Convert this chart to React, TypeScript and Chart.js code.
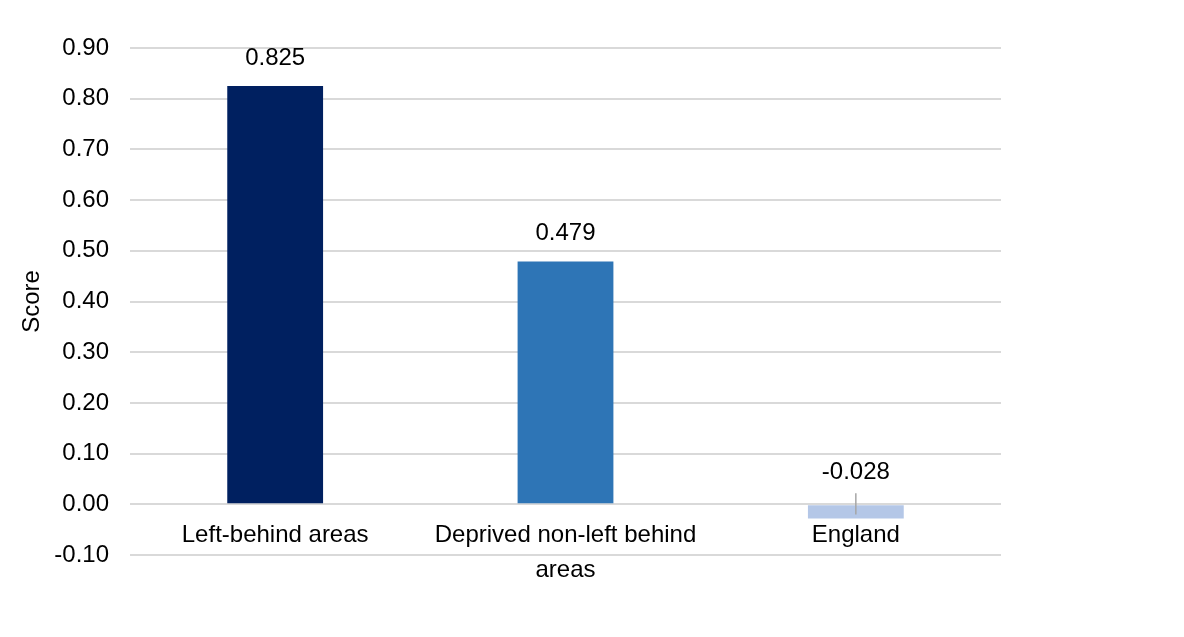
import React, { useEffect, useRef } from "react";
import { Chart, registerables } from "chart.js";

Chart.register(...registerables);

const categories: (string | string[])[] = [
  "Left-behind areas",
  ["Deprived non-left behind", "areas"],
  "England",
];
const scores = [0.825, 0.479, -0.028];
const barColors = ["#002060", "#2E75B6", "#B4C7E7"];
const yMin = -0.1;
const yMax = 0.9;
const yStep = 0.1;
const FONT = "'Liberation Sans', Arial, sans-serif";

// Value labels above each bar; negative bars get the label above the zero
// line with a short leader line down to the bar.
const valueLabels = {
  id: "valueLabels",
  afterDatasetsDraw(chart: any) {
    const ctx = chart.ctx;
    const meta = chart.getDatasetMeta(0);
    const yScale = chart.scales.y;
    const zeroY = yScale.getPixelForValue(0);
    ctx.save();
    ctx.font = `24px ${FONT}`;
    ctx.fillStyle = "#000000";
    ctx.textAlign = "center";
    ctx.textBaseline = "middle";
    meta.data.forEach((bar: any, i: number) => {
      const v = scores[i];
      const text = v.toFixed(3);
      if (v >= 0) {
        ctx.fillText(text, bar.x, bar.y - 28);
      } else {
        ctx.fillText(text, bar.x, zeroY - 32);
        ctx.strokeStyle = "#A6A6A6";
        ctx.lineWidth = 1.5;
        ctx.beginPath();
        ctx.moveTo(bar.x, zeroY - 11);
        ctx.lineTo(bar.x, bar.y - 4);
        ctx.stroke();
      }
    });
    ctx.restore();
  },
};

export default function App() {
  const canvasRef = useRef<HTMLCanvasElement | null>(null);

  useEffect(() => {
    if (!canvasRef.current) return;
    const chart = new Chart(canvasRef.current, {
      type: "bar",
      data: {
        labels: categories,
        datasets: [
          {
            data: scores,
            backgroundColor: barColors,
            barPercentage: 0.33,
            categoryPercentage: 1,
          },
        ],
      },
      options: {
        animation: false,
        responsive: false,
        maintainAspectRatio: false,
        layout: { padding: { top: 48, right: 183, bottom: 82, left: 18 } },
        plugins: {
          legend: { display: false },
          tooltip: { enabled: false },
        },
        scales: {
          x: {
            position: { y: 0 } as any,
            grid: { display: false, drawTicks: false },
            border: { display: false },
            ticks: {
              color: "#000000",
              font: { family: FONT, size: 24, lineHeight: 1.45 },
              padding: 14,
              maxRotation: 0,
              autoSkip: false,
            },
          },
          y: {
            min: yMin,
            max: yMax,
            afterFit: (scale: any) => {
              scale.width = 112;
            },
            grid: { color: "#D9D9D9", lineWidth: 2, drawTicks: false },
            border: { display: false },
            ticks: {
              stepSize: yStep,
              color: "#000000",
              font: { family: FONT, size: 24 },
              padding: 21,
              callback: (v: any) => Number(v).toFixed(2),
            },
            title: {
              display: true,
              text: "Score",
              color: "#000000",
              font: { family: FONT, size: 24 },
              padding: { top: 0, bottom: 6 },
            },
          },
        },
      },
      plugins: [valueLabels],
    });
    return () => chart.destroy();
  }, []);

  return (
    <div style={{ position: "absolute", left: 0, top: 0, width: 1184, height: 637, background: "#ffffff" }}>
      <canvas ref={canvasRef} width={1184} height={637} />
    </div>
  );
}
